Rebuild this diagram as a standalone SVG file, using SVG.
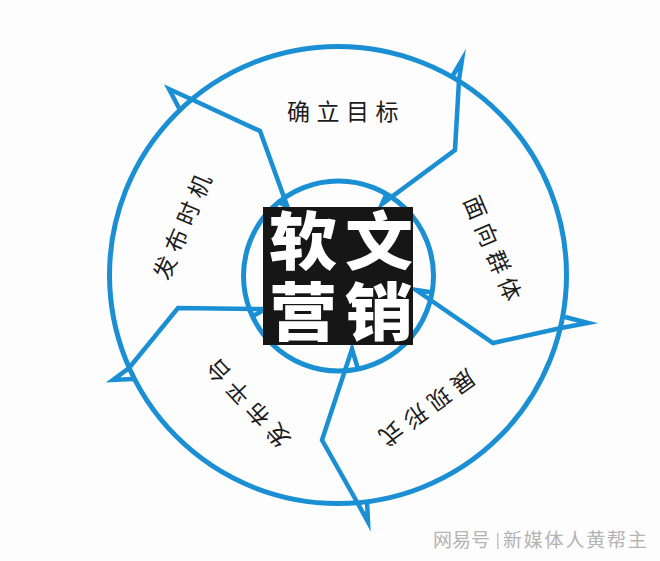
<svg xmlns="http://www.w3.org/2000/svg" width="660" height="561" viewBox="0 0 660 561">
  <defs>
    <style>
      .ring { fill: none; stroke: #1b8fd3; stroke-width: 5; }
      .sep { fill: none; stroke: #1b8fd3; stroke-width: 4.5; stroke-linejoin: miter; stroke-miterlimit: 10; stroke-linecap: butt; }
      .lbl { font-family: "Noto Sans CJK SC", "Noto Sans", sans-serif; font-size: 23px; fill: #1c1c1c; letter-spacing: 6.5px; text-anchor: middle; dominant-baseline: central; }
      .big { font-family: "Noto Sans CJK SC", sans-serif; font-weight: 900; font-size: 63px; fill: #ffffff; writing-mode: vertical-rl; letter-spacing: 8px; }
      .wm { font-family: "Noto Sans CJK SC", sans-serif; font-size: 19px; fill: #b3b3b3; }
    </style>
  </defs>
  <rect width="660" height="561" fill="#fdfdfd"/>

  <g id="rings">
    <circle class="ring" cx="338" cy="275" r="228.5"/>
    <circle class="ring" cx="338.5" cy="276" r="95"/>
  </g>

  <g id="connectors">
    <path class="sep" d="M279,202 L287.5,207 L260,131 L193,100 L169,89 L180,110"/>
    <path class="sep" d="M386.5,194 L382,204 L455,150 L459,80 L462,60 L452,77"/>
    <path class="sep" d="M432.5,292.5 L416,290 L493,343 L561,328 L588,323 L565,317"/>
    <path class="sep" d="M358,369 L352,349 L322,440 L357,502 L368,522 L367,501"/>
    <path class="sep" d="M253,316 L264,310 L264,309 L178,308 L129,368 L113,380 L133,379"/>
  </g>

  <g id="node-center">
    <rect x="263" y="207" width="150" height="138" fill="#161616"/>
    <g transform="scale(1.08,1)">
      <text class="big" x="280.6" y="209">软营</text>
      <text class="big" x="350.9" y="209">文销</text>
    </g>
  </g>

  <g id="node-goal">
    <text class="lbl" x="346" y="110">确立目标</text>
  </g>
  <g id="node-audience">
    <text class="lbl" transform="translate(494,248) rotate(67)" x="3" y="0">面向群体</text>
  </g>
  <g id="node-format">
    <text class="lbl" transform="translate(428,409) rotate(144)" x="3" y="0">展现形式</text>
  </g>
  <g id="node-platform">
    <text class="lbl" transform="translate(247,404) rotate(227)" x="3" y="0">发布平台</text>
  </g>
  <g id="node-timing">
    <text class="lbl" transform="translate(181,226) rotate(-67)" x="3" y="0">发布时机</text>
  </g>

  <g id="watermark">
    <text class="wm" x="433" y="547">网易号</text>
    <rect x="497" y="533" width="1.5" height="16" fill="#c4c4c4"/>
    <text class="wm" x="503" y="547" letter-spacing="1.8">新媒体人黄帮主</text>
  </g>
</svg>
